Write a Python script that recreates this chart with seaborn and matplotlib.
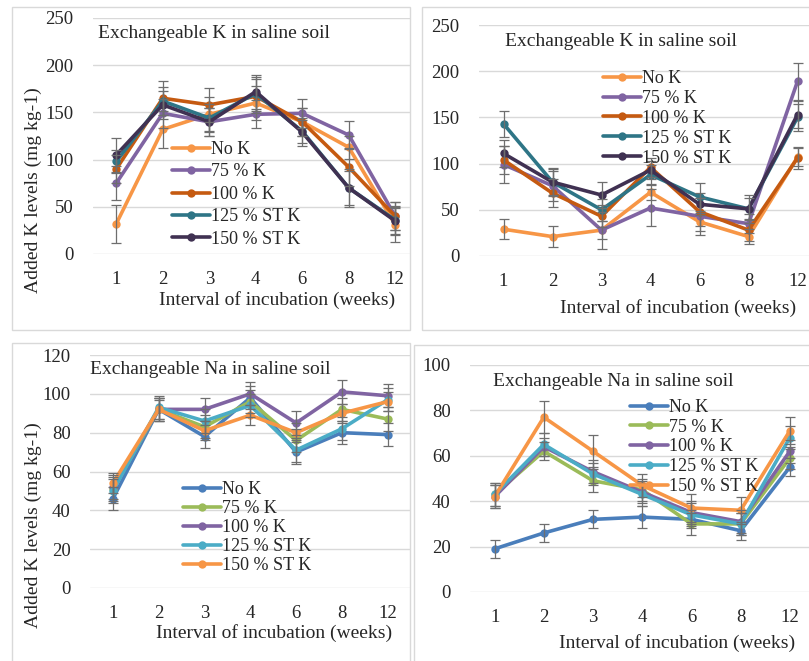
import numpy as np
import pandas as pd
import matplotlib
matplotlib.use("Agg")
import matplotlib.pyplot as plt
import seaborn as sns
from matplotlib.patches import Rectangle

# data
weeks = ["1", "2", "3", "4", "6", "8", "12"]
series = ["No K", "75 % K", "100 % K", "125 % ST K", "150 % ST K"]

# panel 1: exchangeable K (left)
k1_vals = {
    "No K":       [32, 132, 148, 160, 140, 113, 31],
    "75 % K":     [75, 149, 140, 148, 149, 126, 40],
    "100 % K":    [90, 165, 158, 167, 140, 92, 40],
    "125 % ST K": [98, 162, 144, 170, 130, 70, 36],
    "150 % ST K": [105, 158, 140, 172, 129, 70, 35],
}
k1_err = {
    "No K":       [20, 20, 18, 18, 15, 12, 18],
    "75 % K":     [18, 15, 15, 15, 15, 15, 15],
    "100 % K":    [15, 18, 18, 18, 15, 20, 15],
    "125 % ST K": [12, 15, 15, 18, 12, 18, 15],
    "150 % ST K": [18, 15, 15, 18, 15, 20, 15],
}

# panel 2: exchangeable K (right)
k2_vals = {
    "No K":       [29, 21, 28, 69, 37, 21, 107],
    "75 % K":     [99, 76, 28, 52, 43, 35, 189],
    "100 % K":    [104, 68, 43, 96, 48, 28, 106],
    "125 % ST K": [143, 80, 50, 88, 64, 51, 150],
    "150 % ST K": [111, 80, 66, 93, 56, 51, 153],
}
k2_err = {
    "No K":       [11, 11, 10, 8, 10, 8, 10],
    "75 % K":     [20, 16, 20, 20, 20, 10, 20],
    "100 % K":    [15, 15, 12, 10, 15, 12, 12],
    "125 % ST K": [14, 14, 12, 10, 15, 15, 15],
    "150 % ST K": [15, 15, 14, 10, 12, 12, 15],
}

# panel 3: exchangeable Na (left)
na1_vals = {
    "No K":       [46, 92, 78, 98, 70, 80, 79],
    "75 % K":     [51, 92, 83, 96, 76, 92, 87],
    "100 % K":    [52, 92, 92, 100, 85, 101, 99],
    "125 % ST K": [50, 93, 86, 94, 71, 82, 97],
    "150 % ST K": [54, 92, 81, 89, 80, 90, 96],
}
na1_err = {
    "No K":       [6, 6, 6, 6, 6, 6, 6],
    "75 % K":     [6, 6, 6, 6, 6, 6, 6],
    "100 % K":    [6, 6, 6, 6, 6, 6, 6],
    "125 % ST K": [6, 6, 6, 6, 6, 6, 6],
    "150 % ST K": [5, 5, 5, 5, 5, 5, 5],
}

# panel 4: exchangeable Na (right)
na2_vals = {
    "No K":       [19, 26, 32, 33, 32, 27, 55],
    "75 % K":     [43, 62, 49, 45, 30, 30, 59],
    "100 % K":    [42, 64, 53, 44, 35, 31, 62],
    "125 % ST K": [43, 65, 52, 43, 34, 30, 68],
    "150 % ST K": [42, 77, 62, 47, 37, 36, 71],
}
na2_err = {
    "No K":       [4, 4, 4, 5, 4, 4, 4],
    "75 % K":     [5, 4, 5, 5, 5, 5, 5],
    "100 % K":    [5, 4, 5, 5, 5, 5, 5],
    "125 % ST K": [5, 5, 5, 5, 5, 5, 5],
    "150 % ST K": [5, 7, 7, 5, 6, 6, 6],
}

k_colors = ["#F79646", "#8064A2", "#C55A11", "#2E7586", "#403152"]
na_colors = ["#4A7EBB", "#9BBB59", "#8064A2", "#4BACC6", "#F79646"]

W, H = 809, 661
sns.set_theme(style="white")
plt.rcParams['font.family'] = ['Liberation Serif', 'DejaVu Serif']

fig = plt.figure(figsize=(W / 100, H / 100), dpi=100)


def px_box(l, t, r, b):
    return [l / W, 1 - b / H, (r - l) / W, (b - t) / H]


def fx(x):
    return x / W


def fy(y):
    return 1 - y / H


# panel frames (Excel chart borders)
for l, t, r, b in [(12, 7, 410, 330), (422, 7, 812, 330), (12, 343, 410, 665), (414, 345, 812, 665)]:
    fig.patches.append(Rectangle((fx(l), fy(b)), (r - l) / W, (b - t) / H, transform=fig.transFigure,
                                 fill=False, edgecolor="#D9D9D9", linewidth=1.0))

panels = [
    # vals, err, colors, axes px box, category spacing, ylim, ystep, title, title pos, legend pos, row spacing, xlabel pos, ylabel pos
    dict(vals=k1_vals, err=k1_err, colors=k_colors, box=(93, 18, 410, 254), step=46.5, ymax=250, ystep=50,
         title=(98, 33), leg=(172, 141), lsp=0.30, xlab=(277, 300), ylab=(33, 190)),
    dict(vals=k2_vals, err=k2_err, colors=k_colors, box=(479, 25, 809, 256), step=49.0, ymax=250, ystep=50,
         title=(505, 42), leg=(603, 70), lsp=0.16, xlab=(678, 308), ylab=None),
    dict(vals=na1_vals, err=na1_err, colors=na_colors, box=(90, 355, 410, 588), step=45.8, ymax=120, ystep=20,
         title=(90, 370), leg=(183, 481), lsp=0.11, xlab=(274, 633), ylab=(33, 525)),
    dict(vals=na2_vals, err=na2_err, colors=na_colors, box=(470, 365, 809, 592), step=49.2, ymax=100, ystep=20,
         title=(493, 382), leg=(630, 399), lsp=0.15, xlab=(677, 643), ylab=None),
]
titles = ["Exchangeable K in saline soil", "Exchangeable K in saline soil",
          "Exchangeable Na in saline soil", "Exchangeable Na in saline soil"]

pos = np.arange(len(weeks))
for p, title in zip(panels, titles):
    l, t, r, b = p["box"]
    ax = fig.add_axes(px_box(l, t, r, b))
    ax.set_facecolor("none")
    for name, c in zip(series, p["colors"]):
        df = pd.DataFrame({"pos": pos, "val": p["vals"][name]})
        sns.lineplot(data=df, x="pos", y="val", color=c, linewidth=2.6, marker="o", markersize=6,
                     markeredgewidth=0, label=name, ax=ax, zorder=2)
    for name in series:
        ax.errorbar(pos, p["vals"][name], yerr=p["err"][name], fmt="none", ecolor="#6E6E6E",
                    elinewidth=0.9, capsize=3.5, capthick=0.9, zorder=3)
    ax.set_xlim(-0.5, -0.5 + (r - l) / p["step"])
    ax.set_ylim(0, p["ymax"])
    ax.set_yticks(np.arange(0, p["ymax"] + 1, p["ystep"]))
    ax.set_xticks(pos)
    ax.set_xticklabels(weeks)
    ax.tick_params(axis="both", length=0, labelsize=13.5, colors="#262626")
    ax.tick_params(axis="y", pad=14)
    ax.tick_params(axis="x", pad=12)
    ax.grid(axis="y", color="#D9D9D9", linewidth=1.0)
    ax.grid(axis="x", visible=False)
    for s in ax.spines.values():
        s.set_visible(False)
    ax.set_xlabel("")
    ax.set_ylabel("")
    ax.legend(loc="upper left", bbox_to_anchor=(fx(p["leg"][0]), fy(p["leg"][1])),
              bbox_transform=fig.transFigure, frameon=False, fontsize=13, handlelength=2.1,
              handletextpad=0.05, labelspacing=p["lsp"], borderpad=0, borderaxespad=0)
    fig.text(fx(p["title"][0]), fy(p["title"][1]), title, fontsize=14, va="center", ha="left",
             color="#262626")
    fig.text(fx(p["xlab"][0]), fy(p["xlab"][1]), "Interval of incubation (weeks)", fontsize=14,
             va="center", ha="center", color="#262626")
    if p["ylab"] is not None:
        fig.text(fx(p["ylab"][0]), fy(p["ylab"][1]), "Added K levels (mg kg-1)", fontsize=14,
                 va="center", ha="center", rotation=90, color="#262626")

fig.savefig("out.png", dpi=100)
